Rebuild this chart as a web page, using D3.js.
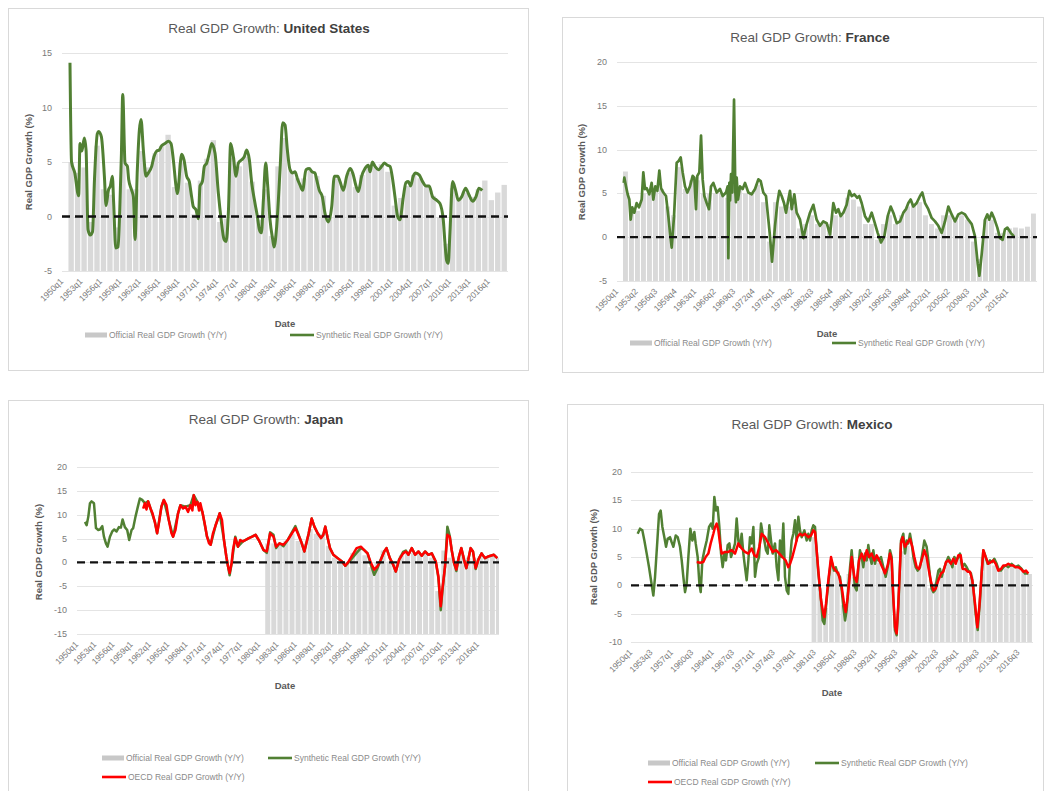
<!DOCTYPE html>
<html>
<head>
<meta charset="utf-8">
<script src="https://cdn.jsdelivr.net/npm/d3@7"></script>
<style>
  body { margin: 0; background: #fff; }
  svg { display: block; font-family: 'Liberation Sans', 'Noto Sans', sans-serif; }
</style>
</head>
<body>
<svg id="chart" width="1045" height="791"></svg>
<script>
// ---- data (decimal year, Y/Y growth %) ----
const usSynthetic = [
  [1951.11,14.1],[1951.35,5.0],[1951.85,4.0],[1952.45,1.9],[1952.66,6.7],[1952.95,6.0],[1953.33,7.2],[1953.6,6.1],
  [1953.9,-1.2],[1954.25,-1.7],[1954.6,-1.4],[1954.9,3.4],[1955.34,7.6],[1955.55,7.8],[1955.97,7.3],[1956.43,3.7],
  [1956.69,1.0],[1957.05,2.4],[1957.36,2.8],[1957.67,3.7],[1957.87,1.2],[1958.19,-2.9],[1958.55,-2.8],[1958.81,0.6],
  [1959.07,5.8],[1959.27,11.2],[1959.63,4.9],[1959.99,4.6],[1960.19,3.4],[1960.66,2.4],[1960.92,1.8],[1961.17,-2.1],
  [1961.53,4.3],[1961.84,7.9],[1962.1,8.9],[1962.46,6.1],[1962.87,3.7],[1963.23,4.0],[1963.75,4.6],[1964.11,5.5],
  [1964.52,6.0],[1964.93,6.1],[1965.3,6.5],[1965.81,6.7],[1966.33,6.9],[1966.74,6.7],[1967.1,5.2],[1967.51,2.8],
  [1967.72,2.1],[1968.39,5.7],[1968.75,5.2],[1969.16,3.7],[1969.57,3.2],[1969.93,1.8],[1970.19,0.9],[1970.61,0.6],
  [1970.97,-0.2],[1971.23,2.8],[1971.59,3.2],[1971.9,4.6],[1972.26,4.9],[1972.62,5.7],[1973.03,6.7],[1973.55,5.8],
  [1974.07,2.1],[1974.48,-0.2],[1974.94,-2.1],[1975.25,-2.3],[1975.61,0.3],[1975.97,6.7],[1976.38,5.5],[1976.8,3.7],
  [1977.16,4.9],[1977.67,5.2],[1978.08,5.5],[1978.45,6.1],[1978.86,5.2],[1979.22,3.1],[1979.74,1.2],[1980.1,0.0],
  [1980.41,-1.2],[1980.72,-1.5],[1981.03,1.5],[1981.39,4.9],[1981.7,2.8],[1982.06,-0.3],[1982.47,-2.1],[1982.68,-2.8],
  [1983.09,-0.9],[1983.61,4.3],[1984.02,8.6],[1984.38,8.4],[1984.74,6.1],[1985.15,4.3],[1985.56,4.0],[1985.92,4.1],
  [1986.33,3.4],[1986.69,2.9],[1987.1,2.4],[1987.62,4.3],[1988.13,4.4],[1988.55,4.1],[1989.01,4.0],[1989.27,3.4],
  [1989.68,2.4],[1990.15,1.8],[1990.56,0.3],[1991.08,-0.5],[1991.6,0.9],[1992.01,3.7],[1992.53,3.7],[1992.89,3.2],
  [1993.4,2.4],[1993.92,3.7],[1994.44,4.4],[1994.85,4.0],[1995.36,2.8],[1995.72,2.3],[1996.24,3.7],[1996.75,4.4],
  [1997.27,4.7],[1997.53,4.1],[1997.89,5.0],[1998.3,4.6],[1998.82,4.3],[1999.33,4.6],[1999.74,4.9],[2000.21,4.7],
  [2000.62,4.6],[2001.03,3.4],[2001.39,1.8],[2001.8,0.0],[2002.16,-0.3],[2002.68,1.8],[2003.09,3.1],[2003.45,3.2],
  [2003.81,2.8],[2004.22,3.7],[2004.58,4.0],[2005.15,3.8],[2005.66,3.2],[2006.18,2.8],[2006.69,2.8],[2007.21,1.8],
  [2007.83,1.5],[2008.34,1.2],[2008.86,-0.3],[2009.12,-2.4],[2009.37,-4.0],[2009.63,-4.3],[2009.89,-1.5],[2010.3,3.2],
  [2010.77,2.4],[2011.18,1.5],[2011.7,1.8],[2012.32,2.6],[2012.83,2.0],[2013.4,1.4],[2013.91,1.8],[2014.38,2.6],
  [2014.9,2.4]
];
const usOfficialStart = 1951;
const usOfficial = [
  5.0,4.0,4.5,-0.5,6.5,2.5,2.0,-1.0,6.5,2.5, 2.5,6.0,4.5,5.8,6.5,7.5,2.7,4.9,3.1,0.2,
  3.3,5.3,7.0,-0.5,-0.2,5.4,4.6,5.5,3.2,-0.3, 2.5,-1.8,4.6,7.2,4.2,3.5,3.5,4.2,3.7,1.9,
  -0.1,3.5,2.8,4.0,2.7,3.8,4.4,4.5,4.8,4.1, 1.0,1.7,2.8,3.8,3.5,2.9,1.9,-0.1,-2.5,2.6,
  1.6,2.2,1.8,2.5,3.3,1.5,2.2,2.9
];
const usTicks = ['1950q1','1953q1','1956q1','1959q1','1962q1','1965q1','1968q1','1971q1','1974q1','1977q1','1980q1',
  '1983q1','1986q1','1989q1','1992q1','1995q1','1998q1','2001q1','2004q1','2007q1','2010q1','2013q1','2016q1'];

const frSynthetic = [
  [1951.0,6.2],[1951.1,6.8],[1951.38,5.8],[1951.65,4.9],[1951.93,4.3],[1952.15,2.0],[1952.43,3.4],[1952.76,2.8],
  [1953.15,3.9],[1953.54,3.4],[1953.99,4.3],[1954.26,7.4],[1954.54,5.5],[1954.82,5.6],[1955.26,4.9],[1955.65,6.2],
  [1955.93,4.3],[1956.26,5.8],[1956.6,5.3],[1956.93,7.6],[1957.21,5.6],[1957.6,5.1],[1958.04,4.7],[1958.43,2.4],
  [1958.71,0.5],[1958.99,-1.2],[1959.38,2.4],[1959.82,8.5],[1960.15,8.7],[1960.49,9.1],[1960.82,7.4],[1961.21,5.8],
  [1961.6,5.1],[1962.04,5.8],[1962.49,7.0],[1962.76,6.8],[1963.04,3.2],[1963.26,7.0],[1963.6,7.4],[1963.88,11.6],
  [1964.15,6.6],[1964.43,4.7],[1964.82,3.9],[1965.21,3.2],[1965.54,5.8],[1965.93,6.2],[1966.49,5.1],[1967.04,5.5],
  [1967.49,4.7],[1968.04,5.1],[1968.32,5.8],[1968.43,-2.4],[1968.6,6.2],[1968.72,4.2],[1968.88,7.2],[1969.1,5.1],
  [1969.38,15.7],[1969.6,5.1],[1969.7,4.0],[1969.82,6.8],[1970.04,4.3],[1970.38,5.8],[1970.82,5.5],[1971.21,6.2],
  [1971.76,5.1],[1972.32,4.9],[1972.88,5.5],[1973.43,6.6],[1973.82,6.4],[1974.26,5.1],[1974.71,4.7],[1975.1,2.0],
  [1975.32,0.5],[1975.71,-2.8],[1976.21,1.3],[1976.6,3.9],[1976.93,5.3],[1977.32,4.7],[1977.71,3.9],[1978.04,2.8],
  [1978.43,4.3],[1978.71,5.3],[1978.99,3.2],[1979.43,4.9],[1979.82,2.8],[1980.38,2.0],[1980.93,-0.1],[1981.49,1.5],
  [1982.04,2.8],[1982.6,3.7],[1983.15,2.0],[1983.71,1.3],[1984.26,1.8],[1984.82,1.6],[1985.38,0.3],[1985.93,3.9],
  [1986.38,2.8],[1986.76,3.2],[1987.15,2.4],[1987.6,2.8],[1988.15,3.7],[1988.6,5.3],[1988.99,4.7],[1989.43,4.9],
  [1989.93,4.5],[1990.26,4.7],[1990.65,3.9],[1991.21,2.4],[1991.76,1.8],[1992.32,2.8],[1992.76,1.8],[1993.32,0.5],
  [1993.88,-0.6],[1994.43,0.1],[1994.99,2.4],[1995.49,3.5],[1995.93,2.8],[1996.49,1.6],[1997.04,1.8],[1997.6,2.8],
  [1998.04,3.2],[1998.43,3.9],[1998.82,4.3],[1999.26,3.5],[1999.82,3.9],[2000.38,4.7],[2000.76,5.1],[2001.21,3.9],
  [2001.76,3.2],[2002.32,2.2],[2002.88,1.8],[2003.43,1.3],[2003.99,0.5],[2004.54,1.8],[2005.1,3.5],[2005.65,2.6],
  [2006.21,1.8],[2006.76,2.6],[2007.32,2.8],[2007.88,2.6],[2008.43,2.0],[2008.99,1.5],[2009.54,0.1],[2009.99,-3.0],
  [2010.27,-4.4],[2010.65,-2.0],[2011.21,2.0],[2011.6,2.6],[2011.93,2.0],[2012.32,2.8],[2012.71,2.2],[2013.26,1.1],
  [2013.71,-0.1],[2014.15,-0.3],[2014.54,0.9],[2014.93,1.1],[2015.49,0.5],[2016.04,0.1]
];
const frOfficialStart = 1951;
const frOfficial = [
  7.5,3.0,3.0,5.0,5.0,5.5,5.5,3.5,2.5,8.0, 5.5,6.5,6.5,5.0,5.0,5.0,5.0,4.5,6.0,5.5,
  5.0,5.0,6.0,4.0,-0.5,4.0,3.5,3.5,3.5,1.0, 1.5,2.5,1.5,1.5,1.5,2.5,2.5,4.5,4.3,3.5,
  1.5,1.5,-0.3,1.5,2.5,1.5,2.5,3.5,3.8,4.0, 2.5,1.5,1.0,2.5,2.5,2.2,2.5,2.0,-0.5,-2.5,
  2.0,2.0,0.5,0.5,1.0,1.1,1.0,1.2,2.7
];
const frTicks = ['1950q1','1953q2','1956q3','1959q4','1963q1','1966q2','1969q3','1972q4','1976q1','1979q2','1982q3',
  '1985q4','1989q1','1992q2','1995q3','1998q4','2002q1','2005q2','2008q3','2011q4','2015q1'];

const jpSynthetic = [
  [1951.19,8.5],[1951.46,7.8],[1951.74,9.6],[1952.01,12.4],[1952.28,12.8],[1952.67,12.4],[1953.0,7.2],[1953.38,6.8],
  [1953.65,6.9],[1954.04,7.6],[1954.31,5.4],[1954.64,4.0],[1954.91,3.3],[1955.3,5.4],[1955.68,6.5],[1956.01,6.9],
  [1956.39,6.5],[1956.78,7.4],[1957.1,7.3],[1957.38,9.0],[1957.76,7.4],[1958.14,6.8],[1958.47,4.7],[1958.86,6.8],
  [1959.13,7.2],[1959.51,9.6],[1959.9,11.7],[1960.23,13.4],[1960.61,13.1],[1960.88,12.7],
  [1961.05,12.4],[1961.59,12.8],[1961.98,11.3],[1962.69,8.5],[1963.07,6.1],[1963.78,11.7],[1964.17,13.1],[1964.99,8.9],
  [1965.7,5.4],[1966.52,10.3],[1966.91,12.0],[1967.73,11.7],[1968.55,12.0],[1969.1,14.1],[1969.7,12.7],[1970.52,10.6],
  [1971.29,5.4],[1971.89,3.7],[1972.71,7.8],[1973.37,10.3],[1974.08,4.7],[1974.46,1.3],[1975.01,-2.7],[1975.34,-0.3],
  [1975.94,5.4],[1976.38,3.3],[1977.2,4.4],[1978.19,5.1],[1979.28,5.8],[1979.93,4.4],[1980.59,2.6],[1981.13,2.0],
  [1981.68,6.3],[1982.23,5.8],[1982.67,3.0],[1983.22,4.0],[1983.87,3.4],[1984.58,4.7],[1985.13,6.0],[1985.84,7.6],
  [1986.23,6.3],[1986.78,4.4],[1987.32,2.3],[1988.04,6.1],[1988.53,9.2],[1988.97,7.5],[1989.51,6.1],[1990.06,5.1],
  [1990.44,5.8],[1990.77,7.5],[1991.16,5.1],[1991.54,3.0],[1992.09,1.6],[1992.8,0.9],[1993.51,0.2],[1994.06,-0.7],
  [1994.61,0.0],[1995.26,1.0],[1995.92,2.0],[1996.63,3.0],[1997.18,2.6],[1997.73,1.9],[1998.28,-0.5],[1998.82,-2.6],
  [1999.37,-1.2],[1999.92,0.6],[2000.47,2.3],[2000.85,3.0],[2001.4,0.9],[2001.95,-0.5],[2002.38,-1.9],[2002.93,0.6],
  [2003.59,2.2],[2004.03,2.5],[2004.46,1.6],[2005.01,3.0],[2005.56,1.6],[2006.11,2.3],[2006.65,1.4],[2007.2,2.3],
  [2007.75,1.6],[2008.3,1.9],[2008.96,0.2],[2009.39,-3.2],[2009.78,-10.0],[2010.05,-6.0],[2010.49,-0.8],[2010.87,7.5],
  [2011.26,5.6],[2011.58,2.6],[2011.97,-0.1],[2012.35,-1.8],[2012.79,1.3],[2013.17,3.0],[2013.61,0.6],[2013.99,-1.2],
  [2014.32,0.6],[2014.71,3.0],[2015.09,2.3],[2015.53,-1.4],[2015.97,0.6],[2016.51,1.9],[2017.06,0.9],[2017.72,1.3],
  [2018.54,1.6],[2019.09,0.9]
];
const jpOecd = [
  [1960.77,11.3],[1961.05,12.4],[1961.32,11.1],[1961.59,12.8],[1961.98,11.3],[1962.31,10.3],[1962.69,8.5],[1963.07,6.1],
  [1963.4,8.5],[1963.78,11.7],[1964.17,13.1],[1964.61,12.0],[1964.99,8.9],[1965.43,6.1],[1965.7,5.4],[1966.09,6.8],
  [1966.52,10.3],[1966.91,12.0],[1967.34,11.3],[1967.73,11.7],[1968.17,10.6],[1968.55,12.0],[1968.88,10.9],[1969.1,14.1],
  [1969.37,12.0],[1969.7,12.7],[1969.97,10.9],[1970.19,12.4],[1970.52,10.6],[1970.9,8.2],[1971.29,5.4],[1971.62,4.0],
  [1971.89,3.7],[1972.27,6.1],[1972.71,7.8],[1973.1,9.2],[1973.37,10.3],[1973.75,8.9],[1974.08,4.7],[1974.46,1.3],
  [1974.74,-0.8],[1975.01,-2.2],[1975.34,-0.1],[1975.56,2.6],[1975.94,5.1],[1976.38,3.3],[1976.76,4.7],[1977.2,4.4],
  [1977.64,4.7],[1978.19,5.1],[1978.74,5.4],[1979.28,5.8],[1979.93,4.4],[1980.59,2.6],[1981.13,2.3],[1981.68,6.1],
  [1982.23,5.4],[1982.67,3.3],[1983.22,4.0],[1983.87,3.7],[1984.58,4.7],[1985.13,5.8],[1985.84,7.2],[1986.23,6.1],
  [1986.78,4.4],[1987.32,2.3],[1988.04,6.1],[1988.53,9.2],[1988.97,7.5],[1989.51,6.1],[1990.06,5.1],[1990.44,5.8],
  [1990.77,7.5],[1991.16,5.1],[1991.54,3.0],[1992.09,1.6],[1992.8,0.9],[1993.51,0.2],[1994.06,-0.7],[1994.61,0.2],
  [1995.26,1.6],[1995.92,3.0],[1996.63,3.3],[1997.18,2.6],[1997.73,1.9],[1998.28,-0.1],[1998.82,-1.5],[1999.37,-0.8],
  [1999.92,0.6],[2000.47,2.3],[2000.85,3.0],[2001.4,0.9],[2001.95,-0.5],[2002.38,-1.9],[2002.93,0.6],[2003.59,1.9],
  [2004.03,2.3],[2004.46,1.6],[2005.01,3.0],[2005.56,1.6],[2006.11,2.3],[2006.65,1.4],[2007.2,2.3],[2007.75,1.6],
  [2008.3,1.9],[2008.96,0.2],[2009.39,-2.9],[2009.78,-9.2],[2010.05,-5.7],[2010.49,-0.8],[2010.87,5.8],[2011.26,5.4],
  [2011.58,2.6],[2011.97,-0.1],[2012.35,-1.5],[2012.79,1.3],[2013.17,3.0],[2013.61,0.6],[2013.99,-1.2],[2014.32,0.6],
  [2014.71,3.0],[2015.09,2.3],[2015.53,-1.2],[2015.97,0.6],[2016.51,1.9],[2017.06,0.9],[2017.72,1.3],[2018.54,1.6],
  [2019.09,0.9]
];
const jpOfficialStart = 1981;
const jpOfficial = [
  4.0,4.0,3.5,4.5,6.0,4.5,4.0,7.0,6.0,6.0, 3.5,1.0,0.2,0.0,2.0,3.0,1.5,-1.0,0.0,2.5,
  0.2,-0.5,1.5,2.0,2.0,1.8,1.8,1.0,-6.0,2.5, 1.0,0.5,1.5,1.0,0.8,1.2,1.0,1.2,1.0
];
const jpTicks = usTicks;

const mxSynthetic = [
  [1951.02,9.1],[1951.42,10.0],[1951.82,9.7],[1952.17,7.9],[1952.57,5.6],[1952.97,3.2],[1953.31,0.9],[1953.71,-1.8],
  [1954.0,1.5],[1954.4,7.9],[1954.69,12.6],[1954.97,13.2],[1955.26,10.3],[1955.6,8.5],[1955.89,6.8],[1956.17,8.2],
  [1956.57,8.5],[1956.86,7.6],[1957.15,6.8],[1957.55,8.8],[1957.89,8.5],[1958.29,6.8],[1958.58,4.4],[1958.86,1.5],
  [1959.15,-1.2],[1959.43,0.3],[1959.72,5.0],[1960.06,10.0],[1960.41,7.9],[1960.75,9.4],[1960.98,7.4],[1961.32,5.0],
  [1961.61,0.3],[1961.84,-1.2],[1962.12,4.4],[1962.47,6.2],[1962.87,7.9],[1963.27,10.3],[1963.61,10.9],[1963.9,10.0],
  [1964.18,15.6],[1964.47,13.2],[1964.75,13.8],[1965.04,10.3],[1965.33,5.6],[1965.61,3.2],[1965.9,5.6],[1966.18,4.4],
  [1966.47,7.1],[1966.76,7.4],[1967.04,5.0],[1967.33,5.9],[1967.73,7.4],[1968.01,11.8],[1968.3,7.9],[1968.59,6.8],
  [1968.87,9.1],[1969.16,5.6],[1969.44,3.2],[1969.73,0.9],[1970.02,4.4],[1970.3,8.5],[1970.59,7.4],[1970.88,10.3],
  [1971.16,1.5],[1971.45,3.8],[1971.85,5.0],[1972.19,10.9],[1972.48,9.1],[1972.76,7.9],[1973.05,6.2],[1973.34,5.6],
  [1973.62,10.6],[1973.91,7.9],[1974.19,5.6],[1974.59,7.4],[1974.88,3.2],[1975.17,0.9],[1975.45,7.9],[1975.74,5.0],
  [1976.02,10.9],[1976.31,1.5],[1976.6,-0.9],[1976.88,-1.5],[1977.17,4.4],[1977.45,7.9],[1977.74,9.1],[1978.03,11.5],
  [1978.31,7.9],[1978.6,12.1],[1978.88,9.7],[1979.17,8.5],[1979.63,9.7],[1980.03,7.9],[1980.31,9.1],[1980.6,7.9],
  [1980.89,9.7],[1981.17,10.6],[1981.46,10.3],[1981.74,6.2],[1982.03,2.1],[1982.49,-2.6],[1982.77,-6.2],[1983.06,-6.8],
  [1983.46,-2.6],[1983.86,1.5],[1984.21,4.4],[1984.43,3.8],[1984.72,2.6],[1985.01,3.2],[1985.35,2.1],[1985.75,1.5],
  [1986.04,-0.9],[1986.32,-3.8],[1986.61,-6.2],[1986.89,-4.4],[1987.18,-0.3],[1987.47,3.2],[1987.75,6.2],[1988.04,2.6],
  [1988.32,-0.3],[1988.61,-0.9],[1988.9,3.2],[1989.18,6.2],[1989.47,5.0],[1989.75,3.2],[1990.04,5.6],[1990.33,4.4],
  [1990.61,7.1],[1990.9,5.0],[1991.18,3.8],[1991.47,6.2],[1991.76,3.8],[1992.04,5.0],[1992.33,4.4],[1992.79,5.0],
  [1993.19,3.2],[1993.59,1.5],[1994.04,3.8],[1994.33,6.2],[1994.62,5.0],[1994.9,-2.6],[1995.19,-7.9],[1995.47,-8.8],
  [1995.76,-3.8],[1996.22,7.9],[1996.62,9.1],[1996.9,5.6],[1997.19,7.9],[1997.48,7.4],[1997.76,9.1],[1998.05,7.4],
  [1998.34,5.0],[1998.74,3.2],[1999.08,2.6],[1999.48,3.2],[1999.88,5.6],[2000.22,7.9],[2000.62,6.8],[2000.91,4.4],
  [2001.2,1.5],[2001.48,-0.6],[2001.77,-1.2],[2002.05,-0.9],[2002.34,0.9],[2002.63,2.6],[2002.91,2.9],[2003.2,1.5],
  [2003.48,2.6],[2003.88,3.8],[2004.34,5.0],[2004.63,4.4],[2005.03,3.2],[2005.37,5.0],[2005.77,4.4],[2006.06,5.0],
  [2006.34,5.6],[2006.74,3.2],[2007.09,3.8],[2007.49,3.2],[2007.77,2.6],[2008.23,2.1],[2008.63,-0.3],[2009.03,-5.0],
  [2009.38,-7.9],[2009.78,-2.6],[2010.06,2.1],[2010.35,6.2],[2010.75,5.0],[2011.09,3.8],[2011.49,4.4],[2011.89,4.1],
  [2012.24,4.7],[2012.64,3.8],[2013.04,2.6],[2013.38,2.6],[2013.78,3.2],[2014.18,3.5],[2014.64,3.2],[2015.21,3.8],
  [2015.78,3.2],[2016.36,3.5],[2016.93,2.9],[2017.5,2.1],[2018.07,2.1]
];
const mxOecd = [
  [1961.15,4.1],[1961.72,4.0],[1962.29,4.1],[1962.69,5.0],[1963.15,5.6],[1963.55,7.4],[1964.01,9.1],[1964.3,10.3],
  [1964.58,10.9],[1964.87,9.7],[1965.15,7.4],[1965.44,5.6],[1966.01,5.9],[1966.58,5.9],[1967.16,6.2],[1967.73,5.6],
  [1968.3,7.4],[1968.87,6.5],[1969.44,5.9],[1970.02,5.6],[1970.59,6.5],[1971.05,5.3],[1971.45,5.0],[1971.9,6.8],
  [1972.31,9.1],[1972.88,8.5],[1973.34,7.6],[1973.74,6.8],[1974.19,5.9],[1974.77,6.2],[1975.34,5.6],[1975.85,5.0],
  [1976.42,4.4],[1976.88,3.2],[1977.17,3.8],[1977.57,5.0],[1978.03,6.8],[1978.43,8.5],[1978.88,9.1],[1979.28,8.8],
  [1979.74,9.1],[1980.31,8.5],[1980.77,8.8],[1981.17,9.7],[1981.46,9.4],[1981.74,6.2],[1982.03,2.6],[1982.49,-2.6],
  [1982.89,-5.0],[1983.06,-5.6],[1983.35,-3.2],[1983.75,0.9],[1984.21,5.0],[1984.61,3.2],[1985.01,2.6],[1985.46,2.1],
  [1986.04,-0.3],[1986.44,-3.2],[1986.72,-4.7],[1987.07,-2.1],[1987.47,2.1],[1987.75,5.0],[1988.21,1.5],[1988.61,0.6],
  [1989.01,4.4],[1989.47,5.6],[1989.93,4.4],[1990.33,6.2],[1990.73,5.0],[1991.18,5.6],[1991.64,4.4],[1992.04,5.3],
  [1992.5,4.4],[1993.01,3.2],[1993.47,2.1],[1993.93,3.5],[1994.33,5.6],[1994.62,4.4],[1994.9,-2.1],[1995.19,-7.4],
  [1995.47,-8.5],[1995.76,-3.2],[1996.22,7.4],[1996.5,8.5],[1996.9,6.8],[1997.36,7.6],[1997.76,8.2],[1998.16,6.8],
  [1998.51,5.0],[1998.91,3.2],[1999.31,2.9],[1999.76,4.4],[2000.22,6.2],[2000.62,5.0],[2000.91,3.2],[2001.37,0.6],
  [2001.77,-0.9],[2002.17,-0.6],[2002.63,0.9],[2003.08,2.1],[2003.48,2.4],[2003.94,4.1],[2004.34,4.4],[2004.8,3.8],
  [2005.2,4.7],[2005.6,3.8],[2006.06,5.3],[2006.46,5.3],[2006.8,2.9],[2007.2,2.9],[2007.66,2.4],[2008.06,2.4],
  [2008.46,0.9],[2008.92,-3.2],[2009.32,-7.4],[2009.66,-3.8],[2010.06,2.1],[2010.35,6.2],[2010.75,5.0],[2011.21,3.8],
  [2011.66,4.1],[2012.06,4.4],[2012.47,3.8],[2012.92,2.6],[2013.38,2.9],[2013.78,3.5],[2014.18,3.5],[2014.64,3.8],
  [2015.1,3.5],[2015.5,3.5],[2015.9,3.2],[2016.36,3.2],[2016.81,2.9],[2017.21,2.4],[2017.67,2.6],[2018.07,2.1]
];
const mxOfficialStart = 1981;
const mxOfficial = [
  8.5,-0.5,-4.0,3.5,2.5,-3.5,2.0,1.5,4.5,5.5, 4.5,4.0,2.5,4.5,-6.5,6.0,7.0,5.0,3.5,5.5,
  -0.5,0.5,2.0,4.0,3.5,4.5,2.8,1.5,-5.0,5.0, 4.0,3.5,2.5,3.0,3.3,3.0,2.5,2.0
];
const mxTicks = ['1950q1','1953q3','1957q1','1960q3','1964q1','1967q3','1971q1','1974q3','1978q1','1981q3',
  '1985q1','1988q3','1992q1','1995q3','1999q1','2002q3','2006q1','2009q3','2013q1','2016q3'];

const LBL_OFFICIAL = 'Official Real GDP Growth (Y/Y)',
  LBL_SYNTH = 'Synthetic Real GDP Growth (Y/Y)',
  LBL_OECD = 'OECD Real GDP Growth (Y/Y)';

// ---- styling ----
const GREEN = '#518033', RED = '#ff0000', BAR = '#d9d9d9', GRID = '#e4e4e4',
  TXT = '#595959';

const panels = [
  {
    id: 'us', country: 'United States', box: [8, 8, 528, 370], titleAt: [269, 33],
    plot: { x0: 62, x1: 508, y0: 53, y1: 271 }, yDomain: [-5, 15], nQ: 276,
    ticks: usTicks, official: { start: usOfficialStart, values: usOfficial },
    lines: [{ data: usSynthetic, color: GREEN, w: 3, smooth: true }],
    yTitleAt: [32, 162], dateAt: [285, 327], tickRight: 52,
    legend: [[85, 335, 'bar', LBL_OFFICIAL], [290, 335, GREEN, LBL_SYNTH]]
  },
  {
    id: 'fr', country: 'France', box: [562, 17, 1043, 372], titleAt: [810, 42],
    plot: { x0: 617, x1: 1037, y0: 62, y1: 281 }, yDomain: [-5, 20], nQ: 280,
    ticks: frTicks, official: { start: frOfficialStart, values: frOfficial },
    lines: [{ data: frSynthetic, color: GREEN, w: 2.7 }],
    yTitleAt: [585, 172], dateAt: [827, 337], tickRight: 607,
    legend: [[630, 343, 'bar', LBL_OFFICIAL], [832, 343, GREEN, LBL_SYNTH]]
  },
  {
    id: 'jp', country: 'Japan', box: [8, 400, 528, 800], titleAt: [266, 424],
    plot: { x0: 77, x1: 499, y0: 467, y1: 634 }, yDomain: [-15, 20], nQ: 278,
    ticks: jpTicks, official: { start: jpOfficialStart, values: jpOfficial },
    lines: [{ data: jpSynthetic, color: GREEN, w: 2.5 }, { data: jpOecd, color: RED, w: 2.5 }],
    yTitleAt: [42, 552], dateAt: [285, 689], tickRight: 67,
    legend: [[102, 758, 'bar', LBL_OFFICIAL], [268, 758, GREEN, LBL_SYNTH], [102, 777, RED, LBL_OECD]]
  },
  {
    id: 'mx', country: 'Mexico', box: [567, 404, 1043, 800], titleAt: [812, 429],
    plot: { x0: 631, x1: 1033, y0: 472, y1: 642 }, yDomain: [-10, 20], nQ: 276,
    ticks: mxTicks, official: { start: mxOfficialStart, values: mxOfficial },
    lines: [{ data: mxSynthetic, color: GREEN, w: 2.5 }, { data: mxOecd, color: RED, w: 2.5 }],
    yTitleAt: [597, 557], dateAt: [832, 696], tickRight: 622,
    legend: [[648, 763, 'bar', LBL_OFFICIAL], [815, 763, GREEN, LBL_SYNTH], [648, 782, RED, LBL_OECD]]
  }
];

const svg = d3.select('#chart');
const quarterIndex = lbl => (+lbl.slice(0, 4) - 1950) * 4 + (+lbl.slice(5) - 1);
const yearIndex = yr => (yr - 1950) * 4;

const drawPanel = p => {
  const g = svg.append('g').attr('class', 'panel ' + p.id);
  const { x0, x1, y0, y1 } = p.plot;

  g.append('rect')
    .attr('x', p.box[0] + 0.5).attr('y', p.box[1] + 0.5)
    .attr('width', p.box[2] - p.box[0]).attr('height', p.box[3] - p.box[1])
    .attr('fill', '#fff').attr('stroke', '#d9d9d9');

  const x = d3.scaleLinear().domain([-0.5, p.nQ - 0.5]).range([x0, x1]);
  const y = d3.scaleLinear().domain(p.yDomain).range([y1, y0]);

  g.append('clipPath').attr('id', 'clip-' + p.id)
    .append('rect').attr('x', x0).attr('y', y0 - 20).attr('width', x1 - x0).attr('height', y1 - y0 + 20);

  // title
  const title = g.append('text')
    .attr('x', p.titleAt[0]).attr('y', p.titleAt[1])
    .attr('text-anchor', 'middle').style('font-size', '13.5px').attr('fill', TXT);
  title.append('tspan').text('Real GDP Growth: ');
  title.append('tspan').text(p.country).style('font-weight', 'bold').attr('fill', '#404040');

  // gridlines + y tick labels
  const yTicks = d3.range(p.yDomain[0], p.yDomain[1] + 1, 5);
  g.selectAll('line.grid').data(yTicks).join('line')
    .attr('class', 'grid')
    .attr('x1', x0).attr('x2', x1)
    .attr('y1', d => Math.round(y(d)) + 0.5).attr('y2', d => Math.round(y(d)) + 0.5)
    .attr('stroke', GRID).attr('stroke-width', 1);
  g.selectAll('text.ytick').data(yTicks).join('text')
    .attr('class', 'ytick')
    .attr('x', p.tickRight).attr('y', d => y(d) + 3)
    .attr('text-anchor', 'end').style('font-size', '9px').attr('fill', '#7a7a7a')
    .text(d => d);

  const plotG = g.append('g').attr('clip-path', `url(#clip-${p.id})`);

  // official bars (annual blocks, drawn up from the bottom of the axis)
  const bars = p.official.values.map((v, i) => ({ year: p.official.start + i, v }));
  plotG.selectAll('rect.bar').data(bars).join('rect')
    .attr('class', 'bar')
    .attr('x', d => x(yearIndex(d.year) - 0.5))
    .attr('width', d => Math.max(0, x(yearIndex(d.year) + 3.5) - x(yearIndex(d.year) - 0.5) - 1.1))
    .attr('y', d => y(d.v))
    .attr('height', d => y1 - y(d.v))
    .attr('fill', BAR);

  // zero line
  g.append('line')
    .attr('x1', x0).attr('x2', x1).attr('y1', y(0)).attr('y2', y(0))
    .attr('stroke', '#111').attr('stroke-width', 2.3).attr('stroke-dasharray', '8,5');

  p.lines.forEach(s => {
    const line = d3.line()
      .x(d => x(yearIndex(d[0])))
      .y(d => y(d[1]))
      .curve(s.smooth ? d3.curveMonotoneX : d3.curveLinear);
    plotG.append('path')
      .datum(s.data)
      .attr('d', line)
      .attr('fill', 'none')
      .attr('stroke', s.color)
      .attr('stroke-width', s.w)
      .attr('stroke-linejoin', 'round');
  });

  // x tick labels
  g.selectAll('text.xtick').data(p.ticks).join('text')
    .attr('class', 'xtick')
    .attr('transform', d => `translate(${x(quarterIndex(d)) + 1},${y1 + 11}) rotate(-45)`)
    .attr('text-anchor', 'end').style('font-size', '8.5px').attr('fill', '#7a7a7a')
    .text(d => d);

  // axis titles
  g.append('text')
    .attr('transform', `translate(${p.yTitleAt[0]},${p.yTitleAt[1]}) rotate(-90)`)
    .attr('text-anchor', 'middle').style('font-size', '9.5px').style('font-weight', 'bold')
    .attr('fill', TXT).text('Real GDP Growth (%)');
  g.append('text')
    .attr('x', p.dateAt[0]).attr('y', p.dateAt[1])
    .attr('text-anchor', 'middle').style('font-size', '9.5px').style('font-weight', 'bold')
    .attr('fill', TXT).text('Date');

  // legend
  p.legend.forEach(([lx, ly, kind, label]) => {
    if (kind === 'bar') {
      g.append('rect').attr('x', lx).attr('y', ly - 2.5).attr('width', 22).attr('height', 5).attr('fill', '#c8c8c8');
    } else {
      g.append('line').attr('x1', lx).attr('x2', lx + 24).attr('y1', ly).attr('y2', ly)
        .attr('stroke', kind).attr('stroke-width', 2.6);
    }
    g.append('text')
      .attr('x', lx + (kind === 'bar' ? 24 : 26)).attr('y', ly + 3)
      .style('font-size', '8.5px').attr('fill', '#8a8a8a').text(label);
  });
};

panels.forEach(drawPanel);
</script>
</body>
</html>
